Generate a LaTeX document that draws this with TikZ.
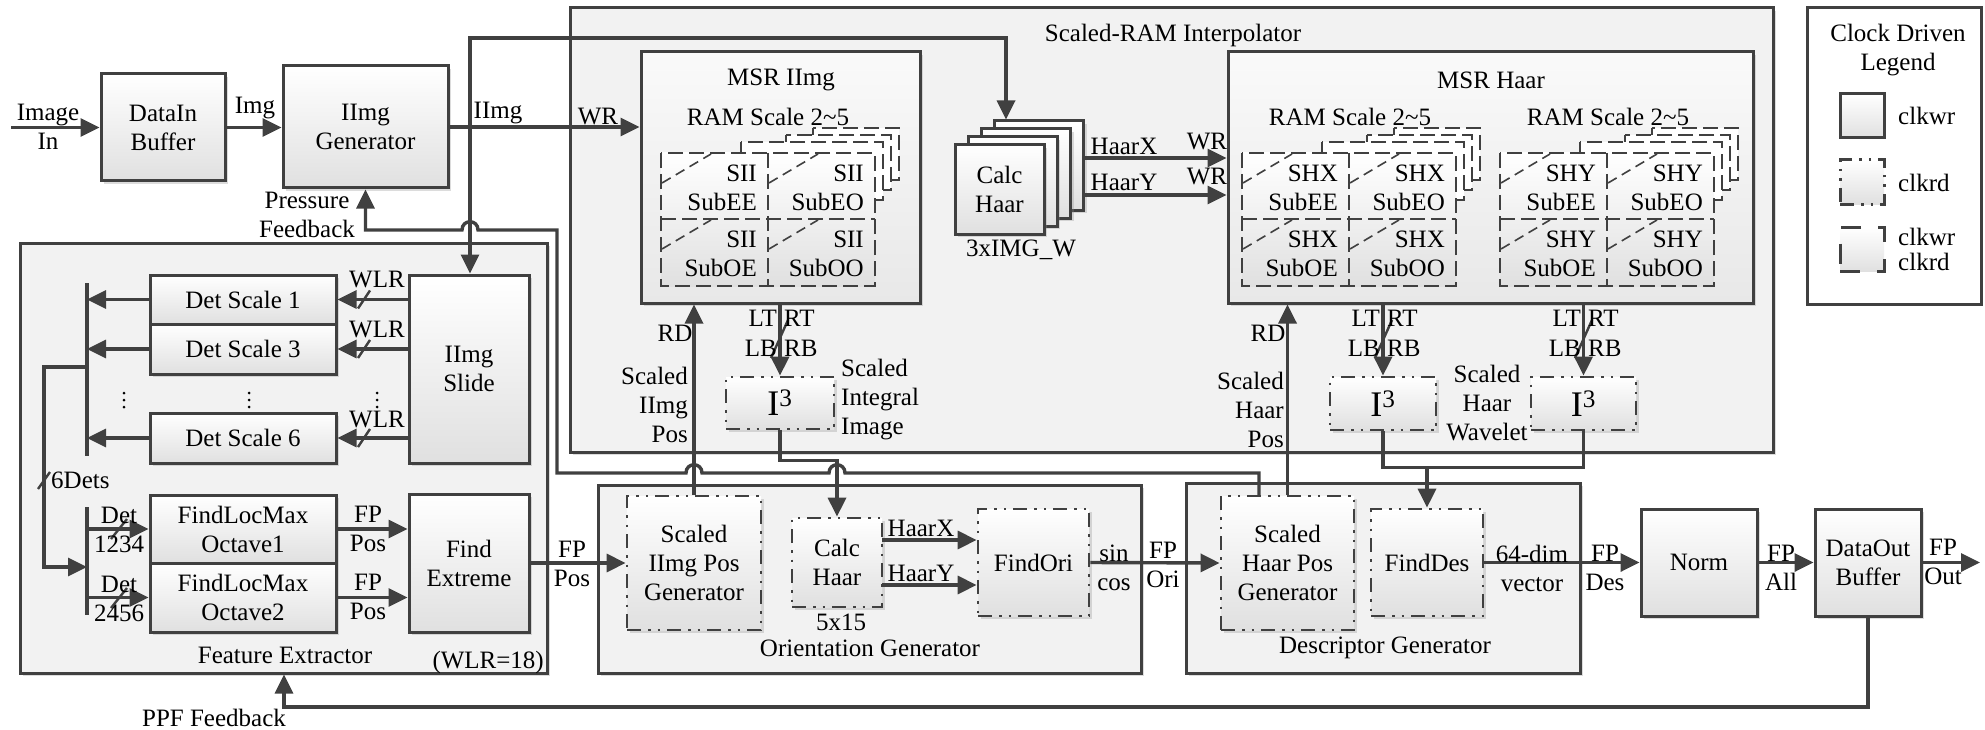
\documentclass[tikz,border=0pt]{standalone}
\usepackage{fontspec}
\setmainfont{Liberation Serif}
\usetikzlibrary{arrows.meta,shadows}
\definecolor{ln}{RGB}{64,64,64}
\definecolor{bxb}{RGB}{224,224,224}
\definecolor{cnt}{RGB}{242,242,242}
\definecolor{cntb}{RGB}{232,232,232}
\newcommand\rmtxt{\fontsize{25}{29}\selectfont}
\tikzset{
  shd/.style={drop shadow={shadow xshift=3pt,shadow yshift=-3pt,opacity=0.3,fill=black!45}},
  box/.style={draw=ln,line width=3pt,top color=white,bottom color=bxb,shd,inner sep=0pt,align=center,font=\rmtxt},
  rdbox/.style={box,line width=2.8pt,dash pattern=on 14pt off 7pt on 2.5pt off 7pt on 2.5pt off 7pt},
  legbox/.style={draw=ln,line width=3pt,top color=white,bottom color=bxb,inner sep=0pt,minimum width=44pt,minimum height=44pt},
  cont/.style={draw=ln,line width=3pt,fill=cnt,shd,inner sep=0pt},
  cont2/.style={draw=ln,line width=3pt,top color=cnt!40!white,bottom color=cntb,shd,inner sep=0pt},
  wire/.style={draw=ln,line width=3.4pt},
  arr/.style={wire,-{Triangle[length=19pt,width=18pt]}},
  tick/.style={draw=ln,line width=2.4pt},
  lab/.style={inner sep=0pt,align=center,font=\rmtxt},
  labl/.style={lab,align=left,anchor=west},
  labr/.style={lab,align=right,anchor=east},
  gridst/.style={draw=ln,line width=2.8pt,dash pattern=on 15pt off 6pt},
  diag/.style={draw=ln,line width=1.6pt,dash pattern=on 10pt off 6pt},
  vdot/.style={fill=black,circle,inner sep=0pt,minimum size=3pt},
}
\newcommand\ramgrid[4]{%
  \draw[gridst,fill=white] (#1+152,#2-25) rectangle (#1+238,#2+27);
  \draw[gridst,fill=white] (#1+125,#2-18) rectangle (#1+230,#2+37);
  \draw[gridst,fill=white] (#1+80,#2-11) rectangle (#1+222,#2+47);
  \draw[gridst,top color=white,bottom color=bxb] (#1,#2) rectangle (#1+214,#2+133);
  \draw[gridst] (#1+107,#2) -- (#1+107,#2+133) (#1,#2+66) -- (#1+214,#2+66);
  \draw[diag] (#1+1,#2+30) -- (#1+50,#2+1) (#1+108,#2+30) -- (#1+157,#2+1)
    (#1+1,#2+96) -- (#1+50,#2+67) (#1+108,#2+96) -- (#1+157,#2+67);
  \node[labr] (#4ee) at (#1+96,#2+35) {#3\\SubEE};
  \node[labr] (#4eo) at (#1+203,#2+35) {#3\\SubEO};
  \node[labr] (#4oe) at (#1+96,#2+101) {#3\\SubOE};
  \node[labr] (#4oo) at (#1+203,#2+101) {#3\\SubOO};
}
\newcommand\vdotcol[2]{%
  \node[vdot] (#2a) at (#1,393) {};
  \node[vdot] (#2b) at (#1,400) {};
  \node[vdot] (#2c) at (#1,407) {};
}
\begin{document}
\begin{tikzpicture}[x=1pt,y=-1pt]
\useasboundingbox (0,0) rectangle (1985,730);

% containers
\node[cont,minimum width=1203pt,minimum height=444pt] (sri) at (1171.5,230) {};
\node[cont,minimum width=527pt,minimum height=430pt] (fe) at (283.5,458) {};
\node[cont,minimum width=543pt,minimum height=188pt] (og) at (869.5,579) {};
\node[cont,minimum width=394pt,minimum height=190pt] (dg) at (1383,578) {};
\node[draw=ln,line width=3pt,fill=white,minimum width=174pt,minimum height=296pt] (leg) at (1894.5,156) {};
\node[cont2,minimum width=279pt,minimum height=251pt] (msri) at (780.5,177.5) {};
\node[cont2,minimum width=525pt,minimum height=251pt] (msrh) at (1490.5,177.5) {};

% container labels
\node[lab] (tsri) at (1173,35) {Scaled-RAM Interpolator};
\node[lab] (tmsri) at (781,80) {MSR IImg};
\node[lab] (tram1) at (768,117) {RAM Scale 2\textasciitilde5};
\node[lab] (tmsrh) at (1491,80) {MSR Haar};
\node[lab] (tram2) at (1350,117) {RAM Scale 2\textasciitilde5};
\node[lab] (tram3) at (1608,117) {RAM Scale 2\textasciitilde5};
\node[lab] (tfe) at (285,655) {Feature Extractor};
\node[labr] (twlr) at (544,662) {(WLR=18)};
\node[lab] (tog) at (870,648) {Orientation Generator};
\node[lab] (tdg) at (1385,648) {Descriptor Generator};

% RAM grids
\ramgrid{661}{153}{SII}{sii}
\ramgrid{1242}{153}{SHX}{shx}
\ramgrid{1500}{153}{SHY}{shy}

% legend
\node[lab] (tleg) at (1898,50) {Clock Driven\\Legend};
\node[legbox] (lg1) at (1862,116) {};
\node[legbox,dash pattern=on 14pt off 7pt on 2.5pt off 7pt on 2.5pt off 7pt] (lg2) at (1862,182) {};
\node[legbox,dash pattern=on 20pt off 17pt] (lg3) at (1862,249.5) {};
\node[labl] (tlg1) at (1898,116) {clkwr};
\node[labl] (tlg2) at (1898,183) {clkrd};
\node[labl,font=\fontsize{25}{25}\selectfont] (tlg3) at (1898,249.5) {clkwr\\clkrd};

% top-left chain
\node[box,minimum width=124pt,minimum height=107pt] (dib) at (163,127.5) {DataIn\\Buffer};
\node[box,minimum width=165pt,minimum height=122pt] (igen) at (365.5,127) {IImg\\Generator};

% Calc Haar stack
\node[box,minimum width=89pt,minimum height=89pt] (ch3) at (1039.4,165.5) {};
\node[box,minimum width=89pt,minimum height=89pt] (ch2) at (1026.1,173.5) {};
\node[box,minimum width=89pt,minimum height=89pt] (ch1) at (1012.8,181.5) {};
\node[box,minimum width=89pt,minimum height=89pt] (ch0) at (999.5,189.5) {Calc\\Haar};
\node[lab] (tchw) at (1021,250) {3xIMG\_W};

% I3 boxes
\node[rdbox,minimum width=108pt,minimum height=52pt,font=\fontsize{36}{40}\selectfont] (i3a) at (780,403) {I\textsuperscript{3}};
\node[rdbox,minimum width=106pt,minimum height=53pt,font=\fontsize{36}{40}\selectfont] (i3b) at (1383,403.5) {I\textsuperscript{3}};
\node[rdbox,minimum width=105pt,minimum height=53pt,font=\fontsize{36}{40}\selectfont] (i3c) at (1583.5,403.5) {I\textsuperscript{3}};

% feature extractor
\node[box,minimum width=186pt,minimum height=49pt] (ds1) at (243,299.5) {Det Scale 1};
\node[box,minimum width=186pt,minimum height=50pt] (ds3) at (243,349) {Det Scale 3};
\node[box,minimum width=186pt,minimum height=50pt] (ds6) at (243,438) {Det Scale 6};
\node[box,minimum width=120pt,minimum height=188pt] (slide) at (469,369) {IImg\\Slide};
\node[box,minimum width=186pt,minimum height=68pt] (oct1) at (243,529) {FindLocMax\\Octave1};
\node[box,minimum width=186pt,minimum height=69pt] (oct2) at (243,597.5) {FindLocMax\\Octave2};
\node[box,minimum width=120pt,minimum height=138pt] (fext) at (469,563) {Find\\Extreme};
\vdotcol{124}{dta}
\vdotcol{249}{dtb}
\vdotcol{377}{dtc}

% orientation generator
\node[rdbox,minimum width=134pt,minimum height=134pt] (sipg) at (694,563) {Scaled\\IImg Pos\\Generator};
\node[rdbox,minimum width=90pt,minimum height=89pt] (chori) at (837,562.5) {Calc\\Haar};
\node[lab] (t515) at (841,622) {5x15};
\node[rdbox,minimum width=111pt,minimum height=107pt] (fori) at (1033.5,562.5) {FindOri};

% descriptor generator
\node[rdbox,minimum width=133pt,minimum height=134pt] (shpg) at (1287.5,563) {Scaled\\Haar Pos\\Generator};
\node[rdbox,minimum width=112pt,minimum height=107pt] (fdes) at (1427,562.5) {FindDes};
\node[box,minimum width=116pt,minimum height=107pt] (norm) at (1699,562.5) {Norm};
\node[box,minimum width=106pt,minimum height=107pt] (dob) at (1868,562.5) {DataOut\\Buffer};

% ---------- connectors ----------
\coordinate (inL) at (11,127.5);
\draw[arr] (inL) -- (dib.west);
\node[lab] (timg) at (48,127) {Image\\In};
\draw[arr] (dib.east) -- (igen.west |- dib.east);
\node[lab] (timg2) at (255,108) {Img};
\draw[arr] (igen.east) -- (igen.east -| msri.west);
\node[lab] (tiimg) at (498,113) {IImg};
\node[lab] (twr1) at (598,117) {WR};

\coordinate (j1) at (470,127);
\coordinate (tp1) at (470,38);
\coordinate (tp2) at (1006,38);
\draw[arr] (j1) -- (tp1) -- (tp2) -- (tp2 |- ch3.north);
\draw[arr] (j1) -- (j1 |- slide.north);

\coordinate (hx) at (1084,158);
\coordinate (hy) at (1084,195);
\draw[arr] (hx) -- (hx -| msrh.west);
\draw[arr] (hy) -- (hy -| msrh.west);
\node[lab] (thx) at (1124,146) {HaarX};
\node[lab] (thy) at (1124,182) {HaarY};
\node[lab] (twr2) at (1207,142) {WR};
\node[lab] (twr3) at (1207,177) {WR};

% pressure feedback
\coordinate (pfs) at (1259,496);
\draw[arr] (pfs) -- (1259,473) -- (845,473) .. controls (845,462) and (829,462) .. (829,473)
  -- (702,473) .. controls (702,462) and (686,462) .. (686,473) -- (557,473) -- (557,230)
  -- (478,230) .. controls (478,219) and (462,219) .. (462,230) -- (365.5,230) -- (igen.south);
\node[lab] (tpf) at (307,215) {Pressure\\Feedback};

% RD / LT RT (IImg)
\draw[arr] (sipg.north) -- (sipg.north |- msri.south);
\node[lab] (trd1) at (675,333) {RD};
\node[labr] (tsip) at (688,405) {Scaled\\IImg\\Pos};
\draw[arr] (i3a.north |- msri.south) -- (i3a.north);
\draw[tick] (771,358) -- (788,320);
\node[lab,anchor=east] (tlt1) at (777,318) {LT};
\node[lab,anchor=west] (trt1) at (784,318) {RT};
\node[lab,anchor=east] (tlb1) at (777,348) {LB};
\node[lab,anchor=west] (trb1) at (784,348) {RB};
\node[labl] (tsii) at (841,400) {Scaled\\Integral\\Image};
\draw[arr] (i3a.south) -- ++(0,30) -| (chori.north);

% RD / LT RT (Haar)
\draw[arr] (shpg.north) -- (shpg.north |- msrh.south);
\node[lab] (trd2) at (1268,333) {RD};
\node[labr] (tshp) at (1284,410) {Scaled\\Haar\\Pos};
\draw[arr] (i3b.north |- msrh.south) -- (i3b.north);
\draw[tick] (1375,358) -- (1392,320);
\node[lab,anchor=east] (tlt2) at (1380,318) {LT};
\node[lab,anchor=west] (trt2) at (1387,318) {RT};
\node[lab,anchor=east] (tlb2) at (1380,348) {LB};
\node[lab,anchor=west] (trb2) at (1387,348) {RB};
\draw[arr] (i3c.north |- msrh.south) -- (i3c.north);
\draw[tick] (1575,358) -- (1592,320);
\node[lab,anchor=east] (tlt3) at (1581,318) {LT};
\node[lab,anchor=west] (trt3) at (1588,318) {RT};
\node[lab,anchor=east] (tlb3) at (1581,348) {LB};
\node[lab,anchor=west] (trb3) at (1588,348) {RB};
\node[lab] (tshw) at (1487,403) {Scaled\\Haar\\Wavelet};
\draw[wire] (i3b.south) -- ++(0,36) -| (i3c.south);
\coordinate (mrg) at (1427,466);
\draw[arr] (mrg) -- (fdes.north);

% feature extractor internals
\draw[arr] (slide.west |- ds1.east) -- (ds1.east);
\draw[arr] (slide.west |- ds3.east) -- (ds3.east);
\draw[arr] (slide.west |- ds6.east) -- (ds6.east);
\draw[tick] (358,308.5) -- (370,290.5);
\draw[tick] (358,358) -- (370,340);
\draw[tick] (358,447) -- (370,429);
\node[lab] (tw1) at (377,280) {WLR};
\node[lab] (tw2) at (377,330) {WLR};
\node[lab] (tw3) at (377,420) {WLR};
\coordinate (b1t) at (87,283);
\coordinate (b1b) at (87,456);
\draw[wire] (b1t) -- (b1b);
\draw[arr] (ds1.west) -- (ds1.west -| b1t);
\draw[arr] (ds3.west) -- (ds3.west -| b1t);
\draw[arr] (ds6.west) -- (ds6.west -| b1t);
\coordinate (b1m) at (87,367);
\coordinate (b2t) at (87,507);
\coordinate (b2b) at (87,615);
\coordinate (b2m) at (87,567);
\draw[wire] (b2t) -- (b2b);
\draw[arr] (b1m) -- (44,367) -- (44,567) -- (b2m);
\draw[tick] (38,489) -- (50,472);
\node[labl] (t6d) at (51,480) {6Dets};
\draw[arr] (oct1.west -| b2t) -- (oct1.west);
\draw[arr] (oct2.west -| b2t) -- (oct2.west);
\draw[tick] (111,539) -- (127,519);
\draw[tick] (111,608) -- (127,588);
\node[lab] (td1) at (119,530) {Det\\1234};
\node[lab] (td2) at (119,599) {Det\\2456};
\draw[arr] (oct1.east) -- (oct1.east -| fext.west);
\draw[arr] (oct2.east) -- (oct2.east -| fext.west);
\node[lab] (tfp1) at (368,529) {FP\\Pos};
\node[lab] (tfp2) at (368,597) {FP\\Pos};

% main pipeline
\draw[arr] (fext.east) -- (sipg.west);
\node[lab] (tfp3) at (572,564) {FP\\Pos};
\coordinate (ohx) at (882,540);
\coordinate (ohy) at (882,585);
\draw[arr] (ohx) -- (ohx -| fori.west);
\draw[arr] (ohy) -- (ohy -| fori.west);
\node[lab] (thx2) at (921,528) {HaarX};
\node[lab] (thy2) at (921,573) {HaarY};
\draw[arr] (fori.east) -- (shpg.west);
\node[lab] (tsc) at (1114,568) {sin\\cos};
\node[lab] (tfo) at (1163,565) {FP\\Ori};
\draw[arr] (fdes.east) -- (norm.west);
\node[lab] (t64) at (1532,568) {64-dim\\vector};
\node[lab] (tfd) at (1605,568) {FP\\Des};
\draw[arr] (norm.east) -- (dob.west);
\node[lab] (tfa) at (1781,568) {FP\\All};
\coordinate (fpout) at (1980,562.5);
\draw[arr] (dob.east) -- (fpout);
\node[lab] (tfpo) at (1943,562) {FP\\Out};

% PPF feedback
\coordinate (ppf1) at (1868,707);
\coordinate (ppf2) at (284,707);
\draw[arr] (dob.south) -- (ppf1) -- (ppf2) -- (ppf2 |- fe.south);
\node[lab] (tppf) at (214,718) {PPF Feedback};
\end{tikzpicture}
\end{document}
